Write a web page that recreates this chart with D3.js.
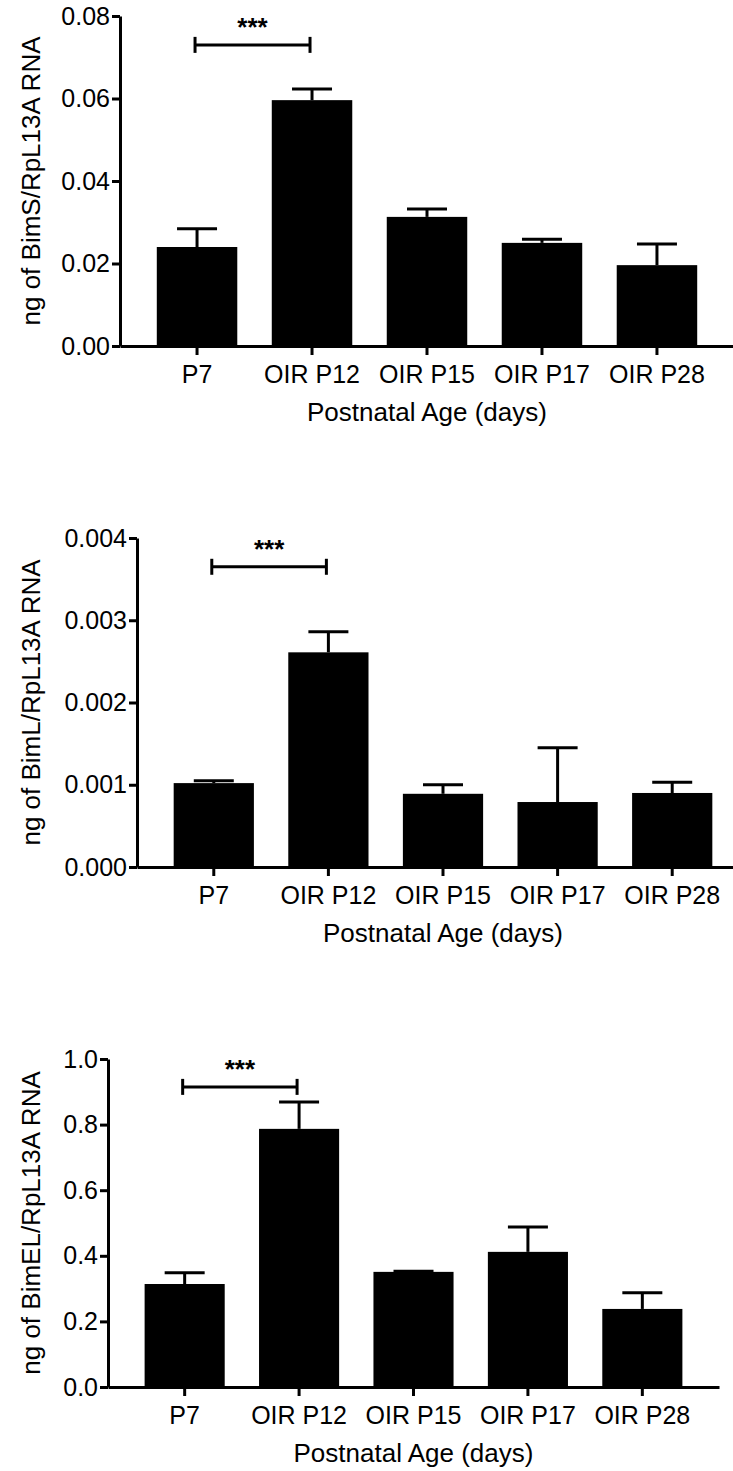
<!DOCTYPE html>
<html lang="en">
<head>
<meta charset="UTF-8">
<title>Bim isoforms</title>
<script src="https://d3js.org/d3.v7.min.js"></script>
<style>
  body { margin: 0; background: #fff; }
  svg text { font-family: "Liberation Sans", Arial, Helvetica, sans-serif; fill: #000; }
</style>
</head>
<body>
<svg id="chart" width="733" height="1471"></svg>
<script>
// categories shared by all three panels
const ages = ["P7", "OIR P12", "OIR P15", "OIR P17", "OIR P28"];
const xTitle = "Postnatal Age (days)";

// BimS
const bimsMean = [0.0240, 0.0596, 0.0313, 0.0250, 0.0196];
const bimsErr  = [0.0044, 0.0027, 0.0019, 0.0009, 0.0051];
const bimsTicks = [0, 0.02, 0.04, 0.06, 0.08];

// BimL
const bimlMean = [0.00102, 0.00261, 0.00089, 0.00079, 0.00090];
const bimlErr  = [0.00003, 0.00025, 0.00011, 0.00066, 0.00013];
const bimlTicks = [0, 0.001, 0.002, 0.003, 0.004];

// BimEL
const bimelMean = [0.314, 0.787, 0.351, 0.412, 0.238];
const bimelErr  = [0.034, 0.082, 0.002, 0.076, 0.049];
const bimelTicks = [0, 0.2, 0.4, 0.6, 0.8, 1.0];

// P7 vs OIR P12 significance
const sigPair = ["P7", "OIR P12"];
const sigLabel = "***";

const svg = d3.select("#chart");

function drawPanel(cfg) {
    const g = svg.append("g");

    const x = d3.scaleBand()
        .domain(ages)
        .range([cfg.x0, cfg.x1])
        .paddingInner(0.3)
        .paddingOuter(0.32);

    const y = d3.scaleLinear()
        .domain([0, cfg.max])
        .range([cfg.yBottom, cfg.yTop]);

    // bars
    g.selectAll("rect.bar")
        .data(cfg.mean)
        .join("rect")
        .attr("class", "bar")
        .attr("x", (d, i) => x(ages[i]))
        .attr("width", x.bandwidth())
        .attr("y", d => y(d))
        .attr("height", d => y(0) - y(d))
        .attr("fill", "#000");

    // upward error bars
    const eb = g.selectAll("g.err")
        .data(cfg.mean.map((m, i) => ({ cat: ages[i], m: m, e: cfg.err[i] })))
        .join("g")
        .attr("class", "err")
        .attr("stroke", "#000")
        .attr("stroke-width", 3);
    eb.append("line")
        .attr("x1", d => x(d.cat) + x.bandwidth() / 2)
        .attr("x2", d => x(d.cat) + x.bandwidth() / 2)
        .attr("y1", d => y(d.m))
        .attr("y2", d => y(d.m + d.e));
    eb.append("line")
        .attr("x1", d => x(d.cat) + x.bandwidth() / 2 - 20)
        .attr("x2", d => x(d.cat) + x.bandwidth() / 2 + 20)
        .attr("y1", d => y(d.m + d.e))
        .attr("y2", d => y(d.m + d.e));

    // axes
    const yAxis = g.append("g")
        .attr("transform", `translate(${cfg.x0},0)`)
        .call(d3.axisLeft(y).tickValues(cfg.ticks).tickFormat(d3.format(cfg.fmt))
            .tickSize(8).tickSizeOuter(0).tickPadding(2));
    const xAxis = g.append("g")
        .attr("transform", `translate(0,${cfg.yBottom})`)
        .call(d3.axisBottom(x).tickSize(9).tickSizeOuter(0).tickPadding(10));

    [yAxis, xAxis].forEach(a => {
        a.select(".domain").attr("stroke", "#000").attr("stroke-width", 3);
        a.selectAll(".tick line").attr("stroke", "#000").attr("stroke-width", 3);
        a.selectAll(".tick text").attr("font-size", 25).attr("fill", "#000");
    });

    // axis titles
    g.append("text")
        .attr("transform", `translate(40,${(cfg.yTop + cfg.yBottom) / 2}) rotate(-90)`)
        .attr("text-anchor", "middle")
        .attr("font-size", 26)
        .text(cfg.yTitle);
    g.append("text")
        .attr("x", (cfg.x0 + cfg.x1) / 2)
        .attr("y", cfg.yBottom + 75)
        .attr("text-anchor", "middle")
        .attr("font-size", 26)
        .text(xTitle);

    // significance bracket
    const bx1 = x(sigPair[0]) + x.bandwidth() / 2 - 2;
    const bx2 = x(sigPair[1]) + x.bandwidth() / 2 - 2;
    const by = y(cfg.sig);
    const br = g.append("g").attr("stroke", "#000").attr("stroke-width", 3);
    br.append("line").attr("x1", bx1).attr("x2", bx2).attr("y1", by).attr("y2", by);
    br.append("line").attr("x1", bx1).attr("x2", bx1).attr("y1", by - 8).attr("y2", by + 8);
    br.append("line").attr("x1", bx2).attr("x2", bx2).attr("y1", by - 8).attr("y2", by + 8);
    g.append("text")
        .attr("x", (bx1 + bx2) / 2)
        .attr("y", by - 9)
        .attr("text-anchor", "middle")
        .attr("font-size", 26)
        .attr("font-weight", "bold")
        .text(sigLabel);
}

drawPanel({ x0: 120, x1: 734, yTop: 16, yBottom: 346, max: 0.08, ticks: bimsTicks, fmt: ".2f",
    mean: bimsMean, err: bimsErr, sig: 0.073, yTitle: "ng of BimS/RpL13A RNA" });
drawPanel({ x0: 137, x1: 749, yTop: 538, yBottom: 867, max: 0.004, ticks: bimlTicks, fmt: ".3f",
    mean: bimlMean, err: bimlErr, sig: 0.00365, yTitle: "ng of BimL/RpL13A RNA" });
drawPanel({ x0: 108, x1: 719, yTop: 1059, yBottom: 1387, max: 1.0, ticks: bimelTicks, fmt: ".1f",
    mean: bimelMean, err: bimelErr, sig: 0.915, yTitle: "ng of BimEL/RpL13A RNA" });
</script>
</body>
</html>
